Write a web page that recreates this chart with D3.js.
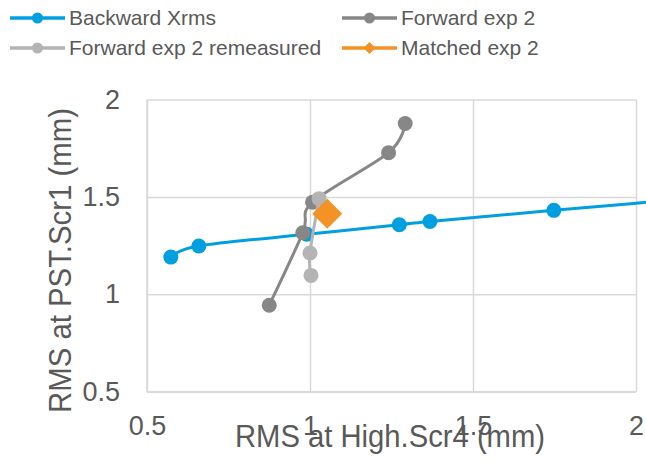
<!DOCTYPE html>
<html>
<head>
<meta charset="utf-8">
<script src="https://cdn.jsdelivr.net/npm/d3@7"></script>
<style>
  body { margin: 0; background: #fff; }
  svg { display: block; font-family: "Liberation Sans", Arial, sans-serif; }
</style>
</head>
<body>
<svg id="chart" width="646" height="462"></svg>
<script>
// series
const backwardX = [0.573, 0.659, 0.99, 1.274, 1.368, 1.748, 2.3];
const backwardY = [1.191, 1.248, 1.308, 1.357, 1.374, 1.431, 1.511];
const forwardX = [0.875, 0.978, 1.008, 1.241, 1.292];
const forwardY = [0.944, 1.316, 1.473, 1.727, 1.877];
const remeasuredX = [1.003, 1.0, 1.028];
const remeasuredY = [1.097, 1.212, 1.491];
const matchedX = [1.053];
const matchedY = [1.414];

const xTicks = [0.5, 1, 1.5, 2];
const yTicks = [0.5, 1, 1.5, 2];

const seriesNames = ['Backward Xrms', 'Forward exp 2', 'Forward exp 2 remeasured', 'Matched exp 2'];
const seriesColors = ['#009fdf', '#878787', '#b4b4b4', '#f39325'];

const svg = d3.select('#chart');
const margin = { top: 99.5, right: 10, bottom: 70, left: 147 };
const width = 636 - margin.left;
const height = 391.7 - margin.top;

const x = d3.scaleLinear().domain([0.5, 2]).range([0, width]);
const y = d3.scaleLinear().domain([0.5, 2]).range([height, 0]);

const g = svg.append('g').attr('transform', `translate(${margin.left},${margin.top})`);

// gridlines
g.append('g')
  .call(d3.axisLeft(y).tickValues(yTicks).tickSize(-width).tickFormat(''))
  .call(s => s.select('.domain').remove())
  .selectAll('line').attr('stroke', '#d9d9d9').attr('stroke-width', 1.5);
g.append('g')
  .attr('transform', `translate(0,${height})`)
  .call(d3.axisBottom(x).tickValues(xTicks).tickSize(-height).tickFormat(''))
  .call(s => s.select('.domain').remove())
  .selectAll('line').attr('stroke', '#d9d9d9').attr('stroke-width', 1.5);

// axis lines
g.append('line').attr('x1', 0).attr('x2', 0).attr('y1', 0).attr('y2', height)
  .attr('stroke', '#d9d9d9').attr('stroke-width', 1.5);
g.append('line').attr('x1', 0).attr('x2', width).attr('y1', height).attr('y2', height)
  .attr('stroke', '#d9d9d9').attr('stroke-width', 1.5);

// tick labels
const yAxis = g.append('g')
  .call(d3.axisLeft(y).tickValues(yTicks).tickSize(0).tickPadding(27).tickFormat(d3.format('')));
yAxis.select('.domain').remove();
yAxis.selectAll('text').attr('fill', '#595959').style('font-size', '27px')
  .style('font-family', '"Liberation Sans", Arial, sans-serif');

const xAxis = g.append('g')
  .attr('transform', `translate(0,${height})`)
  .call(d3.axisBottom(x).tickValues(xTicks).tickSize(0).tickPadding(24).tickFormat(d3.format('')));
xAxis.select('.domain').remove();
xAxis.selectAll('text').attr('fill', '#595959').style('font-size', '27px')
  .style('font-family', '"Liberation Sans", Arial, sans-serif');

// axis titles
svg.append('text')
  .attr('transform', 'translate(71,260.5) rotate(-90)')
  .attr('text-anchor', 'middle')
  .attr('fill', '#595959')
  .style('font-size', '32px')
  .attr('textLength', 305)
  .attr('lengthAdjust', 'spacingAndGlyphs')
  .text('RMS at PST.Scr1 (mm)');
svg.append('text')
  .attr('x', 390).attr('y', 447)
  .attr('text-anchor', 'middle')
  .attr('fill', '#595959')
  .style('font-size', '32px')
  .attr('textLength', 310)
  .attr('lengthAdjust', 'spacingAndGlyphs')
  .text('RMS at High.Scr4 (mm)');

const smooth = d3.line().x(d => x(d[0])).y(d => y(d[1])).curve(d3.curveCardinal.tension(0));

function drawSeries(xs, ys, color) {
  const pts = xs.map((v, i) => [v, ys[i]]);
  g.append('path').datum(pts)
    .attr('d', smooth)
    .attr('fill', 'none')
    .attr('stroke', color)
    .attr('stroke-width', 3);
  g.selectAll(null).data(pts).enter().append('circle')
    .attr('cx', d => x(d[0]))
    .attr('cy', d => y(d[1]))
    .attr('r', 7.5)
    .attr('fill', color);
}

drawSeries(backwardX, backwardY, seriesColors[0]);
drawSeries(forwardX, forwardY, seriesColors[1]);
drawSeries(remeasuredX, remeasuredY, seriesColors[2]);

// matched: big diamond
g.selectAll(null).data(matchedX.map((v, i) => [v, matchedY[i]])).enter().append('path')
  .attr('transform', d => `translate(${x(d[0])},${y(d[1])})`)
  .attr('d', 'M0,-15L15,0L0,15L-15,0Z')
  .attr('fill', seriesColors[3]);

// legend
const legendPos = [[10, 18], [342, 18], [10, 48], [342, 48]];
seriesNames.forEach((name, i) => {
  const [lx, ly] = legendPos[i];
  const lg = svg.append('g').attr('transform', `translate(${lx},${ly})`);
  lg.append('line').attr('x1', 0).attr('x2', 55).attr('y1', 0).attr('y2', 0)
    .attr('stroke', seriesColors[i]).attr('stroke-width', 3.5);
  if (i === 3) {
    lg.append('path').attr('d', 'M27.5,-6L33.5,0L27.5,6L21.5,0Z').attr('fill', seriesColors[i]);
  } else {
    lg.append('circle').attr('cx', 27.5).attr('cy', 0).attr('r', 5.5).attr('fill', seriesColors[i]);
  }
  lg.append('text').attr('x', 59).attr('y', 0).attr('dy', '0.35em')
    .attr('fill', '#595959').style('font-size', '21px').text(name);
});
</script>
</body>
</html>
